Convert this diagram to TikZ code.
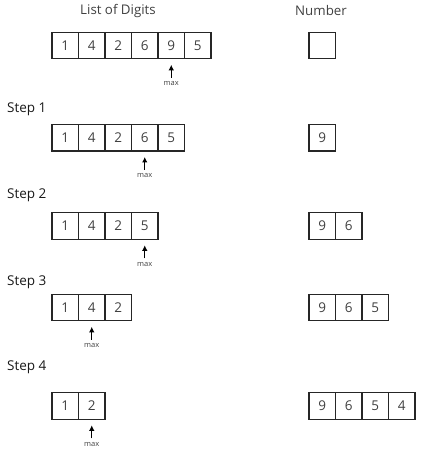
\documentclass[tikz,border=0pt]{standalone}
\usepackage{fontspec}
\setmainfont{Open Sans}
\usetikzlibrary{arrows.meta}
\begin{document}
\begin{tikzpicture}[x=1pt,y=-1pt,
  cell/.style={draw=black!85,line width=1.1pt,minimum size=26.5pt,inner sep=0pt,outer sep=0pt,font=\fontsize{13.5}{15}\selectfont,text=black!75},
  head/.style={font=\fontsize{13.3}{15}\selectfont,text=black!75,inner sep=0pt},
  steplbl/.style={font=\fontsize{13.5}{15}\selectfont,anchor=west,inner sep=0pt,text=black!90},
  maxlbl/.style={font=\fontsize{7.5}{9}\selectfont,inner sep=0pt,text=black!75},
  ptr/.style={-{Latex[length=5.5pt,width=5.5pt]},line width=1.3pt}]
\useasboundingbox (0,0) rectangle (436,456);
\node[head] (h1) at (118,11) {List of Digits};
\node[head] (h2) at (321,11) {Number};
% rows: centre y, digits
\newcommand\cellrow[4]{%
  \foreach \d [count=\i] in {#4} {
    \node[cell] (#1\i) at ({#2+26.5*(\i-0.5)},#3) {\d};
  }}
\cellrow{a}{52}{45.5}{1,4,2,6,9,5}
\node[cell] (na1) at ({309+13.25},45.5) {};
\node[steplbl] (s1) at (7,109) {Step 1};
\cellrow{b}{52}{137.7}{1,4,2,6,5}
\cellrow{nb}{309}{137.7}{9}
\node[steplbl] (s2) at (7,195) {Step 2};
\cellrow{c}{52}{226}{1,4,2,5}
\cellrow{nc}{309}{226}{9,6}
\node[steplbl] (s3) at (7,282) {Step 3};
\cellrow{d}{52}{307.5}{1,4,2}
\cellrow{nd}{309}{307.5}{9,6,5}
\node[steplbl] (s4) at (7,367) {Step 4};
\cellrow{e}{52}{406}{1,2}
\cellrow{ne}{309}{406}{9,6,5,4}
% pointers
\foreach \c in {a5,b4,c4,d2,e2} {
  \coordinate (\c t) at ([yshift=-6pt]\c.south);
  \coordinate (\c b) at ([yshift=-19pt]\c.south);
  \draw[ptr] (\c b) -- (\c t);
  \node[maxlbl] (\c m) at ([yshift=-25pt]\c.south) {max};
}
\end{tikzpicture}
\end{document}
